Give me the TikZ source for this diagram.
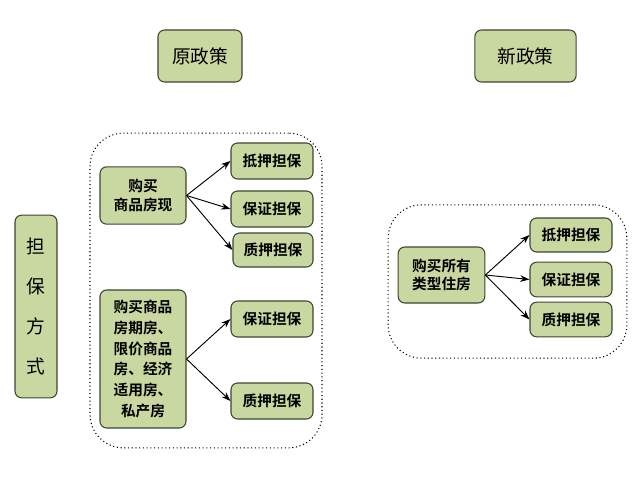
\documentclass[tikz,border=0pt]{standalone}
\usepackage{fontspec}
\newfontfamily\cjk{Noto Sans CJK SC}[BoldFont={* Bold}]
\usetikzlibrary{arrows.meta}
\definecolor{bfill}{RGB}{200,216,160}
\definecolor{bdraw}{RGB}{60,70,50}
\begin{document}
\begin{tikzpicture}[x=0.75pt,y=-0.75pt,
 box/.style={draw=bdraw,fill=bfill,rounded corners=5pt,line width=0.8pt,font=\cjk\bfseries\fontsize{11}{14}\selectfont,align=center,inner sep=0},
 title/.style={box,font=\cjk\fontsize{14}{16}\selectfont},
 grp/.style={draw=black,dotted,line width=0.8pt,rounded corners=25pt},
 arr/.style={-{Stealth[length=7pt,width=5pt]},line width=0.7pt}]
\useasboundingbox (0,0) rectangle (640,485);
\newcommand\bx[6]{\node[#6,minimum width={(#4-#2)*0.75pt},minimum height={(#5-#3)*0.75pt}] (#1) at ({(#2+#4)/2},{(#3+#5)/2}) {};}
\node[grp,minimum width=174pt,minimum height=236pt] (g1) at (206,290.5) {};
\node[grp,minimum width=179pt,minimum height=115pt] (g2) at (507.5,281.5) {};
\node[title,minimum width=63pt,minimum height=39pt] (t1) at (200,56) {原政策};
\node[title,minimum width=76pt,minimum height=39pt] (t2) at (525.5,56) {新政策};
\node[title,minimum width=31.5pt,minimum height=137pt,align=center,font=\cjk\fontsize{14}{30}\selectfont] (dbfs) at (36,306.5) {担\\保\\方\\式};
\node[box,minimum width=64.5pt,minimum height=43pt] (a) at (143,195.5) {购买\\商品房现};
\node[box,minimum width=61.5pt,minimum height=27pt] (a1) at (272,161) {抵押担保};
\node[box,minimum width=61.5pt,minimum height=27pt] (a2) at (272,209) {保证担保};
\node[box,minimum width=60pt,minimum height=25.5pt] (a3) at (273,250) {质押担保};
\node[box,minimum width=64.5pt,minimum height=103.5pt,font=\cjk\bfseries\fontsize{11}{15.5}\selectfont] (b) at (143,359) {购买商品\\房期房、\\限价商品\\房、经济\\适用房、\\私产房};
\node[box,minimum width=61.5pt,minimum height=27pt] (b1) at (272,319) {保证担保};
\node[box,minimum width=61.5pt,minimum height=27pt] (b2) at (272,401) {质押担保};
\node[box,minimum width=65pt,minimum height=42pt] (c) at (441.5,275) {购买所有\\类型住房};
\node[box,minimum width=61.5pt,minimum height=25.5pt] (c1) at (571,235) {抵押担保};
\node[box,minimum width=61.5pt,minimum height=26pt] (c2) at (571,279.5) {保证担保};
\node[box,minimum width=61.5pt,minimum height=26pt] (c3) at (571,319.5) {质押担保};
\foreach \s/\t in {a/a1,a/a2,a/a3,b/b1,b/b2,c/c1,c/c2,c/c3}
  \draw[arr] (\s.east) -- (\t.west);
\end{tikzpicture}
\end{document}
